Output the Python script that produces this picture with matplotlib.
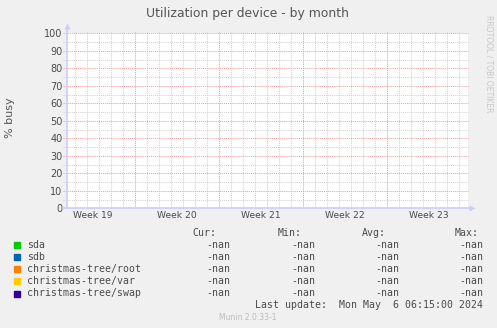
import numpy as np
import matplotlib.pyplot as plt

plt.rcParams['lines.scale_dashes'] = False

# days since left edge of graph; week boundaries (Mon 00:00) at these positions
t = np.arange(0, 34, 1.0)
week_starts = [5.67, 12.67, 19.67, 26.67]
week_labels = ["Week 19", "Week 20", "Week 21", "Week 22", "Week 23"]
x_max = 33.44

devices = ["sda", "sdb", "christmas-tree/root", "christmas-tree/var", "christmas-tree/swap"]
colors = ["#00CC00", "#0066B3", "#FF8000", "#FFCC00", "#330099"]
# no data collected -> all nan
values = {d: np.full(len(t), np.nan) for d in devices}
cur = ["-nan"] * 5
vmin = ["-nan"] * 5
avg = ["-nan"] * 5
vmax = ["-nan"] * 5

W, H = 497, 328
fig = plt.figure(figsize=(W / 100, H / 100), dpi=100)
fig.patch.set_facecolor("#F0F0F0")

def px(x, y):
    return x / W, 1 - y / H

x0, x1, ytop, ybot = 66.7, 468, 33.3, 208.3
ax = fig.add_axes([x0 / W, 1 - ybot / H, (x1 - x0) / W, (ybot - ytop) / H])
ax.set_facecolor("white")
ax.set_xlim(0, x_max)
ax.set_ylim(0, 100)

dots = (0, (0.75, 0.75))
# grid
for d in np.arange(0.67, x_max, 1.0):
    is_major = any(abs(d - w) < 0.01 for w in week_starts)
    ax.plot([d, d], [0, 101.5], color="#F49A9A" if is_major else "#D2D2D2", lw=0.75,
            ls=dots, zorder=1, clip_on=False)
for yv in range(5, 101, 5):
    major = yv % 10 == 0
    ax.plot([-0.3, x_max], [yv, yv], color="#F0A0A0" if major else "#D2D2D2", lw=0.75,
            ls=dots, zorder=1, clip_on=False)

for d, c in zip(devices, colors):
    ax.plot(t, values[d], color=c, lw=1)

for s in ["top", "right", "left", "bottom"]:
    ax.spines[s].set_visible(False)
axis_col = "#CCCCFA"
ax.plot([0, 0], [0, 103], color=axis_col, lw=1.2, clip_on=False, zorder=3)
ax.plot([-0.3, x_max + 0.2], [0, 0], color=axis_col, lw=1.2, clip_on=False, zorder=3)
ax.plot([0], [104], marker="^", ms=5, color=axis_col, mec="none", clip_on=False, zorder=3)
ax.plot([x_max + 0.3], [0], marker=">", ms=5, color=axis_col, mec="none", clip_on=False, zorder=3)

ax.set_yticks(range(0, 101, 10))
ax.set_yticklabels([str(v) for v in range(0, 101, 10)], fontsize=7, color="#4A4A4A")
label_pos = [w - 3.5 for w in week_starts] + [week_starts[-1] + 3.5]
ax.set_xticks(label_pos)
ax.set_xticklabels(week_labels, fontsize=6.6, color="#4A4A4A")
ax.tick_params(axis="both", length=0, pad=3)
ax.tick_params(axis="x", pad=2)

fig.text(*px(248, 13), "Utilization per device - by month", ha="center", va="center",
         fontsize=8.9, color="#555555")
fig.text(*px(10, 118), "% busy", ha="center", va="center", rotation=90,
         fontsize=8, color="#555555")
fig.text(*px(489, 15), "RRDTOOL / TOBI OETIKER", ha="center", va="top", rotation=270,
         fontsize=5.5, color="#C8C8C8")

mono = dict(family="DejaVu Sans Mono", fontsize=7.1, color="#4A4A4A", va="center")
row_y = [245, 257, 269, 281, 293.5]
heads = [("Cur:", 216.7), ("Min:", 301.7), ("Avg:", 385.6), ("Max:", 479)]
for h, xr in heads:
    fig.text(*px(xr, 233), h, ha="right", **mono)
cols = [(cur, 230), (vmin, 315), (avg, 399), (vmax, 483)]
for i, (d, c) in enumerate(zip(devices, colors)):
    fig.patches.append(plt.Rectangle(px(14, row_y[i] + 3), 6 / W, 6 / H, color=c,
                                     transform=fig.transFigure))
    fig.text(*px(26.7, row_y[i]), d, ha="left", **mono)
    for arr, xr in cols:
        fig.text(*px(xr, row_y[i]), arr[i], ha="right", **mono)
fig.text(*px(483, 305), "Last update:  Mon May  6 06:15:00 2024", ha="right", **mono)
fig.text(*px(248, 317), "Munin 2.0.33-1", ha="center", va="center", fontsize=5.5,
         color="#BBBBBB")

fig.savefig("out.png", dpi=100, facecolor=fig.get_facecolor())
